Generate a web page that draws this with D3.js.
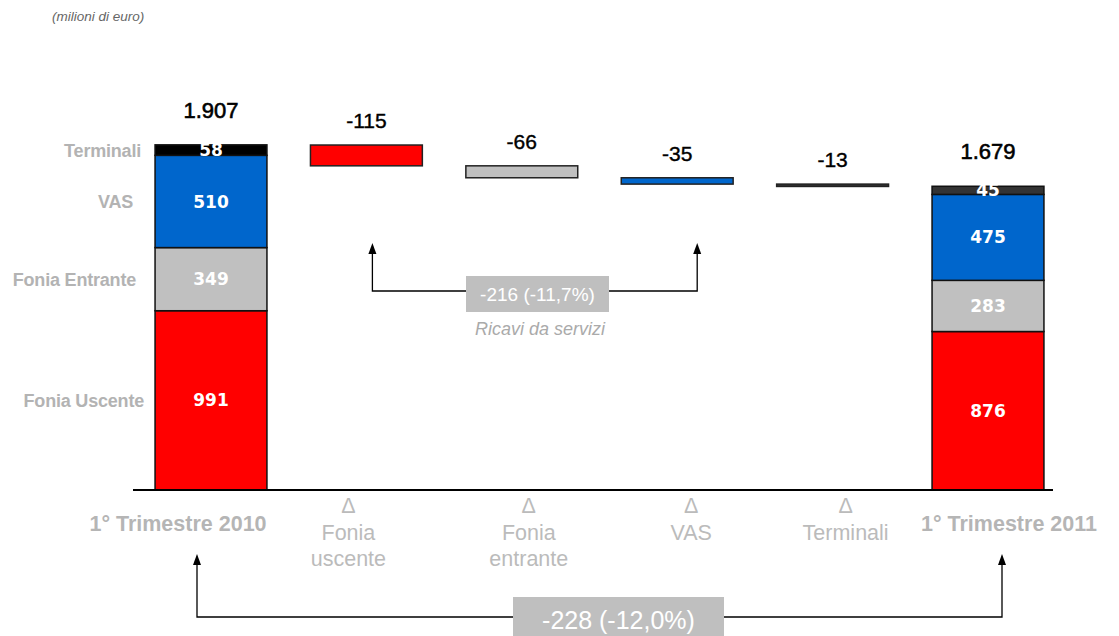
<!DOCTYPE html>
<html><head><meta charset="utf-8">
<script src="https://cdn.jsdelivr.net/npm/d3@7/dist/d3.min.js"></script>
<style>html,body{margin:0;padding:0;background:#fff;}svg{display:block;}</style>
</head><body>
<svg id="chart" width="1119" height="636"></svg>
<script>
// ---- data ----
const categories = ["1° Trimestre 2010", "Δ|Fonia|uscente", "Δ|Fonia|entrante", "Δ|VAS", "Δ|Terminali", "1° Trimestre 2011"];
const components = ["Fonia Uscente", "Fonia Entrante", "VAS", "Terminali"];
const q1_2010 = [991, 349, 510, 58];
const q1_2011 = [876, 283, 475, 45];
const deltas = [-115, -66, -35, -13];
const totals = [1907, 1679];
const annotationLabels = ["-216 (-11,7%)", "-228 (-12,0%)"];
const annotationCaption = "Ricavi da servizi";
const unitNote = "(milioni di euro)";

// ---- styles / layout ----
const colors2010 = ["#FF0000", "#C0C0C0", "#0066CC", "#000000"];
const colors2011 = ["#FF0000", "#C0C0C0", "#0066CC", "#333333"];
const deltaColors = ["#FF0000", "#C0C0C0", "#0066CC", "#333333"];
const catLabelNudge = [-33, -18, 7, 14, 13, 21];
const sideLabelEnd = [144, 136, 133, 141];

const svg = d3.select("#chart");
const itFmt = d3.formatLocale({decimal: ",", thousands: ".", grouping: [3], currency: ["€", ""]}).format(",d");
const FONT = "Liberation Sans, Arial, sans-serif";

const x = d3.scaleBand().domain(categories).range([133.3, 1065.7]).paddingInner(0.28).paddingOuter(0.14);
const y = d3.scaleLinear().domain([0, 2000]).range([490, 490 - 2000 * 0.1809]);
const bw = x.bandwidth();
const cx = i => x(categories[i]) + bw / 2;

// unit note
svg.append("text").attr("x", 52).attr("y", 21).text(unitNote)
  .attr("font-family", FONT).attr("font-size", 13.5)
  .attr("font-style", "italic").attr("fill", "#666");

// stacked bars
function stackBar(idx, vals, cols, showSideLabels) {
  let acc = 0;
  const g = svg.append("g");
  vals.forEach((v, i) => {
    const y0 = y(acc), y1 = y(acc + v);
    g.append("rect").attr("x", x(categories[idx])).attr("width", bw)
      .attr("y", y1).attr("height", y0 - y1)
      .attr("fill", cols[i]).attr("stroke", "#111").attr("stroke-width", 1.5);
    acc += v;
  });
  acc = 0;
  vals.forEach((v, i) => {
    const mid = (y(acc) + y(acc + v)) / 2;
    g.append("text").attr("x", cx(idx)).attr("y", mid).attr("dy", "0.36em")
      .attr("text-anchor", "middle").text(v)
      .attr("font-family", "DejaVu Sans, Verdana, sans-serif").attr("font-weight", "bold")
      .attr("font-size", 17).attr("fill", "#fff");
    if (showSideLabels) {
      svg.append("text").attr("x", sideLabelEnd[i]).attr("y", mid).attr("dy", "0.36em")
        .attr("text-anchor", "end").text(components[i])
        .attr("font-family", FONT).attr("font-weight", "bold")
        .attr("font-size", 18).attr("fill", "#B3B3B3").attr("letter-spacing", -0.2);
    }
    acc += v;
  });
  return acc;
}
stackBar(0, q1_2010, colors2010, true);
stackBar(5, q1_2011, colors2011, false);

// total labels
[[0, totals[0]], [5, totals[1]]].forEach(([idx, t]) => {
  svg.append("text").attr("x", cx(idx)).attr("y", y(t) - 27)
    .attr("text-anchor", "middle").text(itFmt(t))
    .attr("font-family", FONT).attr("font-size", 22)
    .attr("fill", "#000").attr("stroke", "#000").attr("stroke-width", 0.6);
});

// delta bars (waterfall)
let running = totals[0];
deltas.forEach((d, i) => {
  const idx = i + 1;
  const top = y(running), bot = y(running + d);
  svg.append("rect").attr("x", x(categories[idx])).attr("width", bw)
    .attr("y", top).attr("height", bot - top)
    .attr("fill", deltaColors[i]).attr("stroke", "#222").attr("stroke-width", 1.5);
  svg.append("text").attr("x", cx(idx)).attr("y", top - 17)
    .attr("text-anchor", "middle").text(d)
    .attr("font-family", FONT).attr("font-size", 21)
    .attr("fill", "#000").attr("stroke", "#000").attr("stroke-width", 0.4);
  running += d;
});

// baseline
svg.append("line").attr("x1", 133).attr("x2", 1053).attr("y1", y(0)).attr("y2", y(0))
  .attr("stroke", "#000").attr("stroke-width", 2);

// category labels
categories.forEach((c, i) => {
  const px = cx(i) + catLabelNudge[i];
  if (c.includes("|")) {
    const t = svg.append("text").attr("text-anchor", "middle")
      .attr("font-family", FONT).attr("font-size", 21.5)
      .attr("fill", "#BBBBBB");
    c.split("|").forEach((line, k) => {
      t.append("tspan").attr("x", px).attr("y", 513 + k * 26.5).text(line);
    });
  } else {
    svg.append("text").attr("x", px).attr("y", 531).attr("text-anchor", "middle").text(c)
      .attr("font-family", FONT).attr("font-weight", "bold")
      .attr("font-size", 21.5).attr("fill", "#B5B5B5");
  }
});

function arrowUp(xp, yTip) {
  svg.append("path").attr("d", `M${xp},${yTip} L${xp - 4},${yTip + 11} L${xp + 4},${yTip + 11} Z`)
    .attr("fill", "#000");
}

function bracket(xl, xr, yLine, yTip, label, box, fontSize) {
  svg.append("path")
    .attr("d", `M${xl},${yTip + 8} L${xl},${yLine} L${xr},${yLine} L${xr},${yTip + 8}`)
    .attr("fill", "none").attr("stroke", "#000").attr("stroke-width", 1.3);
  arrowUp(xl, yTip);
  arrowUp(xr, yTip);
  svg.append("rect").attr("x", box[0]).attr("y", box[1]).attr("width", box[2]).attr("height", box[3])
    .attr("fill", "#BFBFBF");
  svg.append("text").attr("x", box[0] + box[2] / 2).attr("y", box[1] + box[3] / 2)
    .attr("dy", "0.36em").attr("text-anchor", "middle").text(label)
    .attr("font-family", FONT).attr("font-size", fontSize)
    .attr("fill", "#fff");
}

// services annotation
const sxl = cx(1) + 6, sxr = cx(3) + 20;
bracket(sxl, sxr, 291, 243, annotationLabels[0], [466, 276, 143, 36], 19);
svg.append("text").attr("x", 540).attr("y", 329).attr("dy", "0.36em").attr("text-anchor", "middle")
  .text(annotationCaption).attr("font-family", FONT)
  .attr("font-size", 18).attr("font-style", "italic").attr("fill", "#AAAAAA");

// total annotation
const txl = cx(0) - 14, txr = cx(5) + 14;
bracket(txl, txr, 617, 554, annotationLabels[1], [513, 597, 211, 45], 25);
</script>
</body></html>
